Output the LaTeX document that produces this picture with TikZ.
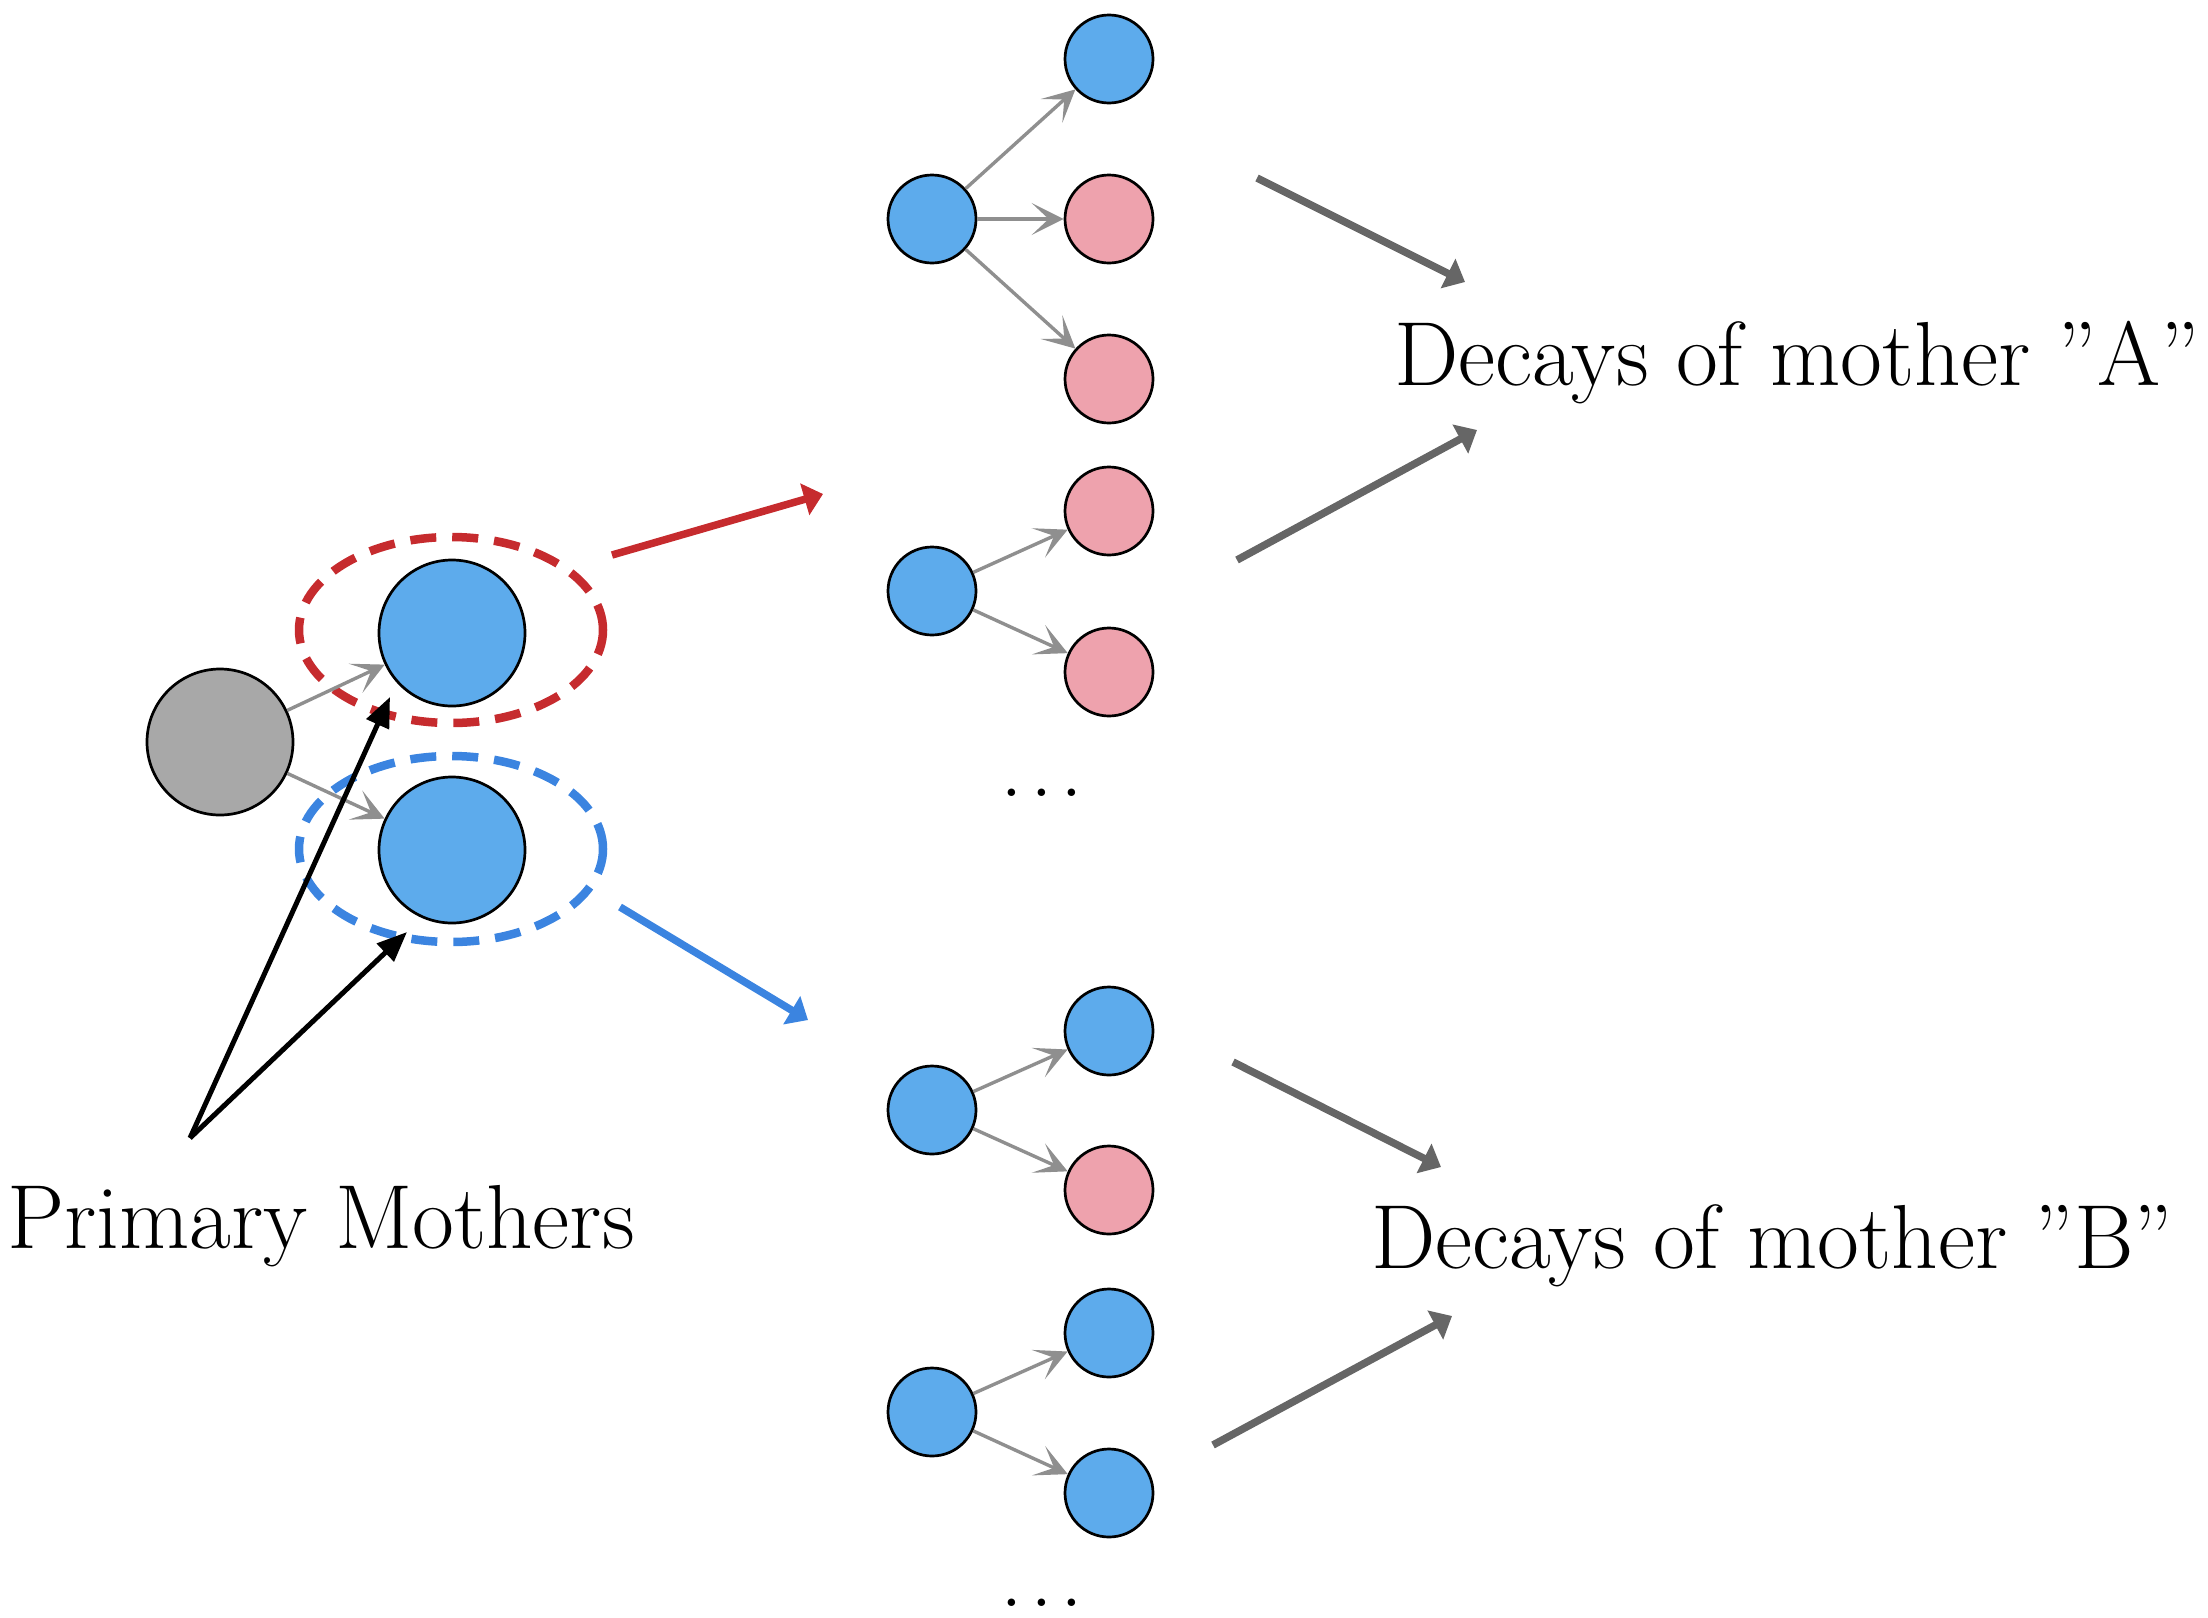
\documentclass[tikz,border=0pt]{standalone}
\usetikzlibrary{arrows.meta,shapes.geometric}
\definecolor{blueFill}{HTML}{5DABEC}
\definecolor{pinkFill}{HTML}{EEA2AD}
\definecolor{greyFill}{HTML}{A8A8A8}
\definecolor{arrowGrey}{HTML}{8F8F8F}
\definecolor{darkGrey}{HTML}{666666}
\definecolor{redC}{HTML}{C62B2E}
\definecolor{blueC}{HTML}{3B84E0}
\tikzset{
  ball/.style={circle, draw=black, line width=2.7pt, minimum size=88pt, inner sep=0pt},
  bigball/.style={circle, draw=black, line width=2.7pt, minimum size=146pt, inner sep=0pt},
  bball/.style={ball, fill=blueFill},
  pball/.style={ball, fill=pinkFill},
  decayarrow/.style={draw=arrowGrey, line width=3.4pt, -{Stealth[length=32pt,width=32pt,inset=17pt]}},
  ringstyle/.style={ellipse, line width=8.5pt, dash pattern=on 26pt off 16pt, minimum width=304pt, minimum height=186pt, inner sep=0pt},
  bigarrow/.style={line width=7.5pt, -{Triangle[length=19pt,width=32pt]}},
  ptrarrow/.style={draw=black, line width=5pt, -{Triangle[length=30pt,width=24pt]}},
  lbl/.style={anchor=base west, inner sep=0pt, font=\fontsize{91}{100}\selectfont},
}
\begin{document}
\begin{tikzpicture}[x=1pt,y=-1pt]
\useasboundingbox (0,0) rectangle (2208,1617);
% left part
\node[ringstyle, draw=redC] (ringA) at (451,630) {};
\node[ringstyle, draw=blueC] (ringB) at (451,849) {};
\node[bigball, fill=greyFill] (root) at (220,742) {};
\node[bigball, fill=blueFill] (motherA) at (452,633) {};
\node[bigball, fill=blueFill] (motherB) at (452,850) {};
\draw[decayarrow] (root) -- (motherA);
\draw[decayarrow] (root) -- (motherB);

% primary mothers label and pointers
\node[lbl] (pm) at (7,1248) {Primary Mothers};
\coordinate (apex) at (190,1138);
\coordinate (tipA) at (390,697);
\coordinate (tipB) at (407,932);
\draw[ptrarrow] (apex) -- (tipA);
\draw[ptrarrow] (apex) -- (tipB);

% red and blue arrows
\coordinate (rs) at (612,555);
\coordinate (re) at (823,494);
\coordinate (bs) at (620,907);
\coordinate (be) at (808,1020);
\draw[bigarrow, draw=redC, fill=redC] (rs) -- (re);
\draw[bigarrow, draw=blueC, fill=blueC] (bs) -- (be);

% group A1
\node[bball] (a1m) at (932,219) {};
\node[bball] (a1d1) at (1109,59) {};
\node[pball] (a1d2) at (1109,219) {};
\node[pball] (a1d3) at (1109,379) {};
\draw[decayarrow] (a1m) -- (a1d1);
\draw[decayarrow] (a1m) -- (a1d2);
\draw[decayarrow] (a1m) -- (a1d3);
% group A2
\node[bball] (a2m) at (932,591) {};
\node[pball] (a2d1) at (1109,511) {};
\node[pball] (a2d2) at (1109,672) {};
\draw[decayarrow] (a2m) -- (a2d1);
\draw[decayarrow] (a2m) -- (a2d2);
\node[anchor=base, inner sep=0pt, font=\fontsize{91}{100}\selectfont] (dotsA) at (1042,796) {.\kern7pt.\kern7pt.};

% group B1
\node[bball] (b1m) at (932,1110) {};
\node[bball] (b1d1) at (1109,1031) {};
\node[pball] (b1d2) at (1109,1190) {};
\draw[decayarrow] (b1m) -- (b1d1);
\draw[decayarrow] (b1m) -- (b1d2);
% group B2
\node[bball] (b2m) at (932,1412) {};
\node[bball] (b2d1) at (1109,1333) {};
\node[bball] (b2d2) at (1109,1493) {};
\draw[decayarrow] (b2m) -- (b2d1);
\draw[decayarrow] (b2m) -- (b2d2);
\node[anchor=base, inner sep=0pt, font=\fontsize{91}{100}\selectfont] (dotsB) at (1042,1606) {.\kern7pt.\kern7pt.};

% labels on the right
\node[lbl] (decA) at (1394,385) {Decays of mother \textquotedblright A\textquotedblright};
\node[lbl] (decB) at (1371,1268) {Decays of mother \textquotedblright B\textquotedblright};

% dark grey arrows
\coordinate (ga1s) at (1257,178);
\coordinate (ga1e) at (1465,282);
\coordinate (ga2s) at (1237,560);
\coordinate (ga2e) at (1477,430);
\coordinate (gb1s) at (1233,1062);
\coordinate (gb1e) at (1441,1167);
\coordinate (gb2s) at (1213,1445);
\coordinate (gb2e) at (1452,1316);
\draw[bigarrow, draw=darkGrey, fill=darkGrey] (ga1s) -- (ga1e);
\draw[bigarrow, draw=darkGrey, fill=darkGrey] (ga2s) -- (ga2e);
\draw[bigarrow, draw=darkGrey, fill=darkGrey] (gb1s) -- (gb1e);
\draw[bigarrow, draw=darkGrey, fill=darkGrey] (gb2s) -- (gb2e);
\end{tikzpicture}
\end{document}
